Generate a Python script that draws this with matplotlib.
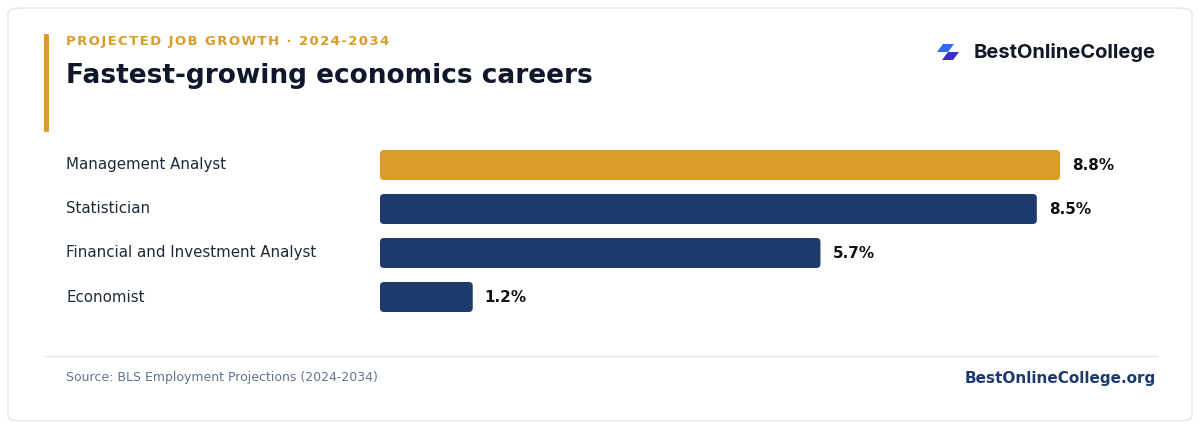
import matplotlib
matplotlib.use("Agg")
import matplotlib.pyplot as plt
from matplotlib.patches import FancyBboxPatch, Polygon

careers = ["Management Analyst", "Statistician", "Financial and Investment Analyst", "Economist"]
growth = [8.8, 8.5, 5.7, 1.2]
bar_colors = ["#DA9B28", "#1C3A6B", "#1C3A6B", "#1C3A6B"]

W, H = 1200, 430
fig = plt.figure(figsize=(12, 4.3), dpi=100)
fig.patch.set_facecolor("white")


def fx(x):
    return x / W


def fy(y):
    return 1 - y / H


# card and decorations
fig.patches.append(FancyBboxPatch((fx(8), fy(421)), fx(1184), 413 / H, transform=fig.transFigure,
                                  boxstyle="round,pad=0,rounding_size=0.012", facecolor="white",
                                  edgecolor="#E3E6EC", linewidth=1, zorder=-5))
fig.patches.append(FancyBboxPatch((fx(44), fy(132)), fx(5), 98 / H, transform=fig.transFigure,
                                  boxstyle="round,pad=0,rounding_size=0.002", facecolor="#DA9B28",
                                  edgecolor="none"))
fig.add_artist(plt.Line2D([fx(44), fx(1156)], [fy(356), fy(356)], transform=fig.transFigure,
                          color="#E3E6EC", linewidth=1))

subtitle = "PROJECTED JOB GROWTH · 2024-2034"
fig.text(fx(66), fy(42), "\u200a".join(subtitle), color="#DA9B28", fontsize=9.5,
         fontweight="bold", va="center", ha="left")
fig.text(fx(66), fy(76), "Fastest-growing economics careers", color="#0F172A", fontsize=19,
         fontweight="bold", va="center", ha="left")

# logo
for dx, dy, c in [(0, 0, "#2E6BF0"), (5, 8, "#3B2FC9")]:
    x0, y0 = 937 + dx, 44 + dy
    pts = [(x0 + 6, y0), (x0 + 17, y0), (x0 + 11, y0 + 8), (x0, y0 + 8)]
    fig.patches.append(Polygon([(fx(a), fy(b)) for a, b in pts], closed=True,
                               transform=fig.transFigure, facecolor=c, edgecolor="none"))
fig.text(fx(1156), fy(53), "BestOnlineCollege", color="#111827", fontsize=14.5, fontweight="bold",
         ha="right", va="center", family=["Inter", "DejaVu Sans"])

fig.text(fx(66), fy(378), "Source: BLS Employment Projections (2024-2034)", color="#64748B",
         fontsize=9, ha="left", va="center")
fig.text(fx(1156), fy(378), "BestOnlineCollege.org", color="#1C3A6B", fontsize=11,
         fontweight="bold", ha="right", va="center")

# bars
ax = fig.add_axes([fx(380), fy(319), fx(680), 176 / H])
ax.set_zorder(5)
ax.set_xlim(0, max(growth))
ax.set_ylim(len(careers) - 0.5, -0.5)
ax.axis("off")
x_per_px = max(growth) / 680
y_per_px = len(careers) / 176
bar_h = 30 * y_per_px
for i, (name, val, c) in enumerate(zip(careers, growth, bar_colors)):
    ax.add_patch(FancyBboxPatch((0, i - bar_h / 2), val, bar_h,
                                boxstyle="round,pad=0,rounding_size=%f" % (4 * x_per_px),
                                mutation_aspect=y_per_px / x_per_px, facecolor=c, edgecolor="none"))
    ax.text(val + 12 * x_per_px, i, f"{val}%", fontsize=11, fontweight="bold", color="#111111",
            va="center", ha="left", clip_on=False)
    fig.text(fx(66), fy(165 + 44 * i), name, fontsize=10.8, color="#1F2937", va="center", ha="left")

fig.savefig("out.png", dpi=100, facecolor="white")
